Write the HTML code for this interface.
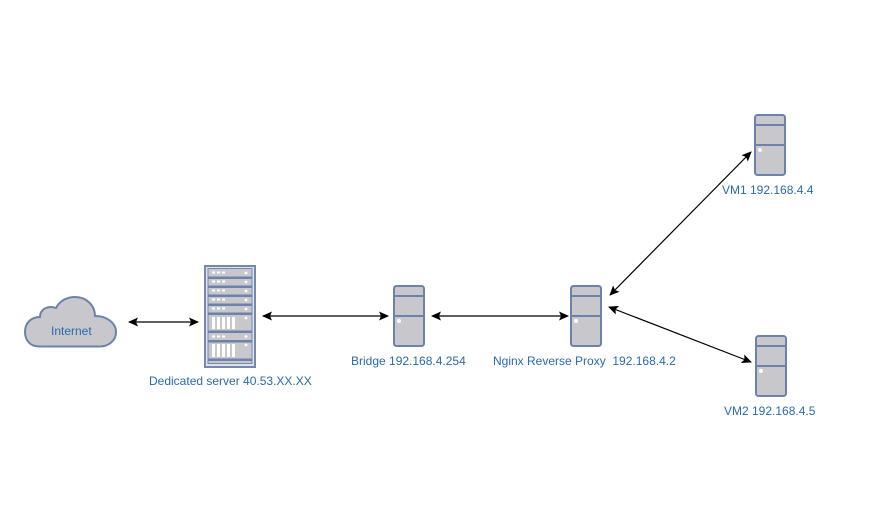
<!DOCTYPE html>
<html><head><meta charset="utf-8"><style>
html,body{margin:0;padding:0;background:#fff}
svg{display:block}
text{font-family:"Liberation Sans",sans-serif;font-size:12px;fill:#2a6aae}
</style></head><body>
<svg width="873" height="507" viewBox="0 0 873 507" xmlns="http://www.w3.org/2000/svg">
<defs>
<marker id="a" markerWidth="10" markerHeight="9" refX="9" refY="4.5" orient="auto-start-reverse" markerUnits="userSpaceOnUse"><path d="M0,0 L10,4.5 L0,9 L2,4.5 Z" fill="#000"/></marker>
<g id="t">
<rect x="1" y="1" width="30" height="60" rx="2.5" fill="#c8c8cc" stroke="#6d82ab" stroke-width="2"/>
<path d="M1,11 H31 M1,31 H31" stroke="#6d82ab" stroke-width="2"/>
<circle cx="6" cy="36" r="2" fill="#fff"/>
</g>
</defs>
<path d="M39,346.500 C30,346.500 25,340 25,332 C25,323 31,317 40,317 C40,309 48,305 56,308 C60,300 68,297 75,297 C87,297 95,306 95,316 C107,316 116,323 116,332 C116,341 108,346.500 100,346.500 Z" fill="#c8c8cc" stroke="#6d82ab" stroke-width="2"/>
<text x="51" y="335">Internet</text>
<g stroke="#000" stroke-width="1.2" fill="none">
<line x1="129" y1="322" x2="198" y2="322" marker-start="url(#a)" marker-end="url(#a)"/>
<line x1="263" y1="316" x2="388" y2="316" marker-start="url(#a)" marker-end="url(#a)"/>
<line x1="432" y1="316" x2="568" y2="316" marker-start="url(#a)" marker-end="url(#a)"/>
<line x1="610" y1="295" x2="751" y2="152" marker-start="url(#a)" marker-end="url(#a)"/>
<line x1="609" y1="307" x2="751" y2="362" marker-start="url(#a)" marker-end="url(#a)"/>
</g>
<rect x="205" y="266" width="50" height="101" fill="#dfe2ea" stroke="#7488b0" stroke-width="2"/>
<rect x="208" y="268.500" width="44" height="95" fill="#c8c8cc" stroke="#7488b0" stroke-width="1"/>
<g fill="#6d82ab">
<rect x="208" y="276.500" width="44" height="2.500"/><rect x="208" y="285.500" width="44" height="2.500"/><rect x="208" y="294.500" width="44" height="2.500"/><rect x="208" y="303.500" width="44" height="2.500"/><rect x="208" y="312.500" width="44" height="2.500"/><rect x="208" y="330.500" width="44" height="2.500"/><rect x="208" y="340" width="44" height="2.500"/><rect x="208" y="358.500" width="44" height="2.500"/>
</g>
<g fill="#fff">
<rect x="212" y="271.500" width="3" height="2"/><rect x="217" y="271.500" width="3" height="2"/><rect x="222" y="271.500" width="3" height="2"/><circle cx="246" cy="273" r="1.400"/>
<rect x="212" y="280.500" width="3" height="2"/><rect x="217" y="280.500" width="3" height="2"/><rect x="222" y="280.500" width="3" height="2"/><circle cx="246" cy="282" r="1.400"/>
<rect x="212" y="289.500" width="3" height="2"/><rect x="217" y="289.500" width="3" height="2"/><rect x="222" y="289.500" width="3" height="2"/><circle cx="246" cy="291" r="1.400"/>
<rect x="212" y="298.500" width="3" height="2"/><rect x="217" y="298.500" width="3" height="2"/><rect x="222" y="298.500" width="3" height="2"/><circle cx="246" cy="300" r="1.400"/>
<rect x="212" y="307.500" width="3" height="2"/><rect x="217" y="307.500" width="3" height="2"/><rect x="222" y="307.500" width="3" height="2"/><circle cx="246" cy="309" r="1.400"/>
<rect x="212" y="317" width="3" height="12"/><rect x="217" y="317" width="3" height="12"/><rect x="222" y="317" width="3" height="12"/><rect x="227" y="317" width="3" height="12"/><rect x="232" y="317" width="3" height="12"/><circle cx="246" cy="318" r="1.400"/>
<rect x="212" y="335.500" width="3" height="2"/><rect x="217" y="335.500" width="3" height="2"/><rect x="222" y="335.500" width="3" height="2"/><circle cx="246" cy="336.500" r="1.400"/>
<rect x="212" y="344" width="3" height="13"/><rect x="217" y="344" width="3" height="13"/><rect x="222" y="344" width="3" height="13"/><rect x="227" y="344" width="3" height="13"/><rect x="232" y="344" width="3" height="13"/><circle cx="246" cy="345" r="1.400"/>
</g>
<use href="#t" x="393" y="285"/>
<use href="#t" x="570" y="285"/>
<use href="#t" x="754" y="114"/>
<use href="#t" x="755" y="335"/>
<text x="149" y="385">Dedicated server 40.53.XX.XX</text>
<text x="351" y="365">Bridge 192.168.4.254</text>
<text x="493" y="365" xml:space="preserve">Nginx Reverse Proxy  192.168.4.2</text>
<text x="722" y="194">VM1 192.168.4.4</text>
<text x="724" y="415">VM2 192.168.4.5</text>
</svg>
</body></html>
